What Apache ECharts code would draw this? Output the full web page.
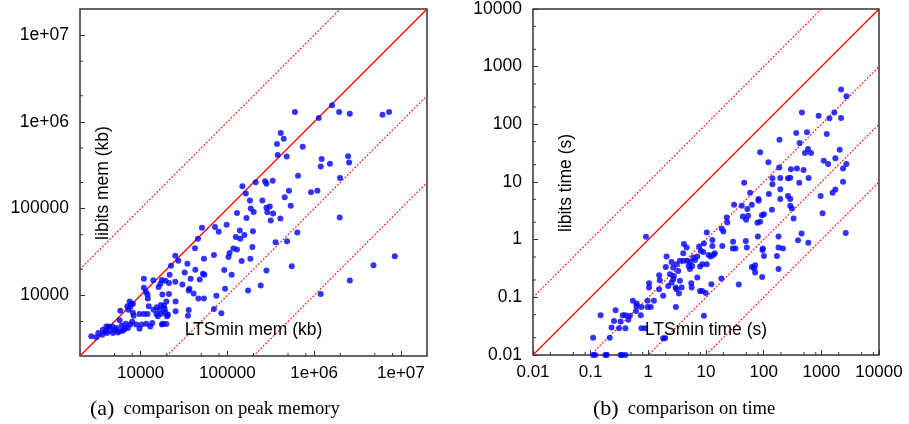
<!DOCTYPE html>
<html><head><meta charset="utf-8">
<script src="https://cdn.jsdelivr.net/npm/echarts@6/dist/echarts.min.js"></script>
<style>html,body{margin:0;padding:0;background:#fff}#c{width:909px;height:424px}</style>
</head><body><div id="c"></div>
<script>
// ---- (a) peak memory (kb) ----
const memLTSmin = [6.0e5,1.13e6,1.61e6,1.94e6,2.58e6,6.14e6,7.31e6,4.12e5,4.46e5,3.73e5,7.38e5,3.8e5,4.83e5,1.22e6,2.46e6,1.19e6,1.52e6,2.53e6,6.52e5,1.99e6,
1.49e5,2.12e5,2.72e5,2.82e5,3.33e5,1.63e5,5.13e5,9.2e5,1.09e6,4.58e5,1.82e5,2.53e5,1.86e5,2.01e5,1.29e5,1.66e5,2.82e5,3.08e5,2.89e5,3.36e5,
3.16e5,4.08e5,5.37e5,1.97e6,5.09e4,7.2e4,7.94e4,9.8e4,1.39e5,1.97e5,1.57e5,1.25e5,1.41e5,6.4e5,4.58e4,4.23e4,3.6e5,4.87e5,1.17e5,1.29e5,
1.94e5,1.06e5,1.03e5,7.0e4,2.51e4,2.72e4,5.37e4,1.84e5,1.46e5,2.24e4,3.46e4,3.22e4,4.27e4,5.23e4,5.43e4,9.2e4,1.12e5,2.82e5,5.52e5,4.83e6,
8.5e6,1.09e4,1.4e4,1.76e4,1.93e4,2.16e4,2.51e4,3.77e4,4.8e4,1.61e4,1.69e4,1.09e4,1.15e4,1.2e4,1.21e4,2.12e4,3.03e4,3.65e4,3.58e4,4.08e4,
4.63e4,5.37e4,7.46e4,9.4e4,1.73e5,2.42e5,1.78e4,1.98e4,2.12e4,2.53e4,1.71e4,1.86e4,1.54e4,1.41e4,1.52e4,1.89e4,1.93e4,2.01e4,1.81e4,1.76e4,
1.98e4,2.53e4,3.58e4,3.51e4,7.0e4,8.53e4,1.19e6,2.58e6,9.7e3,1.09e4,1.2e4,1.24e4,7.47e3,7.8e3,7.03e3,7.22e3,8.15e3,5.83e3,5.73e3,8.0e3,
8.9e3,9.7e3,6.71e3,6.04e3,7.14e3,1.16e4,1.29e4,1.36e4,5.25e3,4.72e3,4.39e3,4.02e3,3.67e3,3.25e3,3.08e3,2.7e3,3.61e3,4.09e3,4.8e3,5.47e3,
6.25e3,5.73e3,5.0e3,3.95e3,4.28e3,6.54e3,7.6e3,1.03e4,8.3e3,1.58e4,1.73e4,2.07e4,7.6e3,8.15e3,1.66e4];
const memLibits = [1.3e6,1.11e6,1.55e6,1.3e6,1.24e6,1.21e6,1.3e6,7.46e5,6.37e5,5.57e5,5.15e5,4.16e5,3.98e5,3.74e5,4.01e5,3.05e5,3.3e5,3.4e5,2.4e5,2.26e5,
1.81e5,2.01e5,2.07e5,1.94e5,2.09e5,1.49e5,1.61e5,1.54e5,1.61e5,1.35e5,1.24e5,1.24e5,1.0e5,9.16e4,8.9e4,7.8e4,1.02e5,1.06e5,9.1e4,8.8e4,
7.3e4,7.7e4,1.08e5,7.9e4,6.0e4,6.15e4,5.4e4,6.5e4,5.6e4,5.5e4,4.98e4,4.7e4,4.5e4,5.3e4,4.5e4,3.5e4,4.1e4,4.2e4,3.46e4,3.37e4,
3.6e4,3.08e4,2.77e4,2.92e4,2.87e4,2.51e4,2.65e4,2.65e4,2.49e4,2.2e4,2.32e4,1.83e4,1.98e4,1.77e4,1.73e4,1.96e4,1.73e4,1.94e4,2.16e4,2.22e4,
2.82e4,1.55e4,1.49e4,1.5e4,1.47e4,1.73e4,1.44e4,1.55e4,1.52e4,1.25e4,1.36e4,1.22e4,1.1e4,1.02e4,9.2e3,1.39e4,1.33e4,1.19e4,1.14e4,1.05e4,
9.2e3,9.2e3,9.9e3,1.19e4,1.14e4,1.3e4,1.02e4,8.5e3,1.04e4,8.5e3,7.75e3,7.6e3,7.3e3,6.84e3,6.1e3,7.0e3,6.37e3,5.73e3,4.72e3,4.6e3,
4.68e3,6.54e3,6.79e3,5.83e3,6.97e3,6.2e3,1.04e4,1.48e4,6.1e3,6.1e3,6.1e3,7.47e3,8.5e3,7.96e3,7.47e3,6.84e3,6.3e3,6.66e3,5.15e3,4.97e3,
4.6e3,4.13e3,4.72e3,4.47e3,4.21e3,4.72e3,4.39e3,4.8e3,4.21e3,4.39e3,3.92e3,4.39e3,4.02e3,3.68e3,3.28e3,3.37e3,3.52e3,3.68e3,3.68e3,3.74e3,
3.92e3,3.85e3,4.02e3,3.85e3,4.39e3,4.1e3,4.6e3,4.6e3,5.83e3,5.73e3,6.15e3,5.99e3,7.35e3,8.0e3,6.84e3];
const memRange = [2000, 20000000];
const memRatios = [10, 1, 0.1, 0.01];
const memMinorX = [5000,8000,20000,50000,80000,200000,500000,800000,2000000,5000000,8000000];
const memMinorY = [5000,20000,50000,200000,500000,2000000,5000000];

// ---- (b) time (s) ----
const timeLTSmin = [2200,2720,461,897,1380,1680,2200,367,564,1240,188,420,86.9,521,587,662,2080,121,1100,1310,
1750,2720,186,2380,297,378,492,142,194,264,289,601,45.8,142,414,2380,194,58.2,123,1570,
1750,264,973,81.3,194,289,1050,2650,454,394,594,181,181,216,181,170,96.8,95.3,101,94.2,
79.3,49,51,71.1,68.4,62.4,71.1,139,289,309,330,93,101,86.9,78,30.7,41.8,52.2,43.5,53.7,
49.6,62.4,81.3,22.9,23.4,18.8,20,19.2,29.5,32.3,29.1,18.5,37,12.4,10.3,12.9,12.9,14.2,12.1,11.1,
13.4,8.97,9.2,7.6,8.1,7.06,6.0,6.44,5.27,5.78,5.27,7.06,7.87,8.63,9.9,9.2,7.87,8.63,10.3,4.61,
4.03,4.73,5.0,4.1,4.14,3.53,3.09,2.7,3.3,2.37,2.7,2.53,3.53,2.97,3.78,5.64,5.55,2.21,3.09,3.39,
3.0,1.81,2.53,2.77,2.07,2.01,1.54,1.58,1.54,1.03,1.03,1.25,0.97,1.1,0.97,0.76,0.74,0.76,0.88,0.91,
0.63,0.54,0.61,0.48,0.45,0.40,0.36,0.33,0.27,0.254,0.23,0.214,0.40,0.31,0.149,0.11,1.81,1.95,0.62,
0.11,0.12,0.18,0.19,0.33,0.35,0.40];
const timeLibits = [400,306,161,141,127,161,129,70.6,72.6,67.9,54,47.3,32.7,31.8,37.2,31.8,36.2,21.9,23.3,20.5,
25.7,20.5,17.9,17.2,16.7,17.2,16.1,11.6,11.7,11.6,11.8,11.7,9.7,9.1,9.7,10.1,7.5,6.5,6.2,6.5,
7.4,5.7,5.7,5.05,5.05,5.05,2.88,1.3,1.28,0.98,0.88,1.14,0.73,0.70,0.31,0.52,0.70,0.66,0.52,0.226,
1.14,0.95,0.73,0.36,0.32,0.337,0.27,3.29,3.86,3.48,2.33,2.66,2.77,2.04,1.96,4.02,3.86,3.39,2.53,2.59,
2.21,4.02,4.72,2.43,1.99,1.56,1.39,0.78,0.92,0.70,0.70,0.212,0.167,0.169,1.33,0.99,0.78,0.58,0.51,0.54,
0.54,0.61,0.86,0.76,0.64,0.51,0.49,0.446,0.41,0.35,0.31,0.22,0.129,0.129,0.119,0.048,0.343,0.376,0.376,0.73,
0.58,0.43,0.35,0.43,0.84,0.43,0.376,0.33,0.287,0.252,0.206,0.181,0.193,0.148,0.148,0.148,0.176,0.158,0.138,0.116,
0.068,0.106,0.41,0.235,0.51,0.337,0.242,0.198,0.138,0.176,0.148,0.087,0.087,0.068,0.068,0.068,0.049,0.029,0.029,1.12,
0.078,0.087,0.058,0.048,0.041,0.049,0.049,0.038,0.060,0.039,0.030,0.020,0.029,0.029,0.049,0.020,0.0195,0.0195,0.071,
0.01,0.01,0.01,0.01,0.01,0.01,0.01];
const timeRange = [0.01, 10000];
const timeRatios = [10, 1, 0.1, 0.01, 0.001];
const timeMinorX = [0.02,0.05,0.08,0.2,0.5,0.8,2,5,8,20,50,80,200,500,800,2000,5000,8000];
const timeMinorY = [0.02,0.05,0.2,0.5,2,5,20,50,200,500,2000,5000];

const titles = {
  memX: 'LTSmin mem (kb)', memY: 'libits mem (kb)',
  timeX: 'LTSmin time (s)', timeY: 'libits time (s)',
  capA: ['(a)', 'comparison on peak memory'],
  capB: ['(b)', 'comparison on time']
};

// ---- layout ----
const G = [
  {left: 80, top: 9, width: 347, height: 347},
  {left: 533, top: 9, width: 346, height: 346}
];
const SANS = 'Liberation Sans, Arial, sans-serif';
const SERIF = 'Liberation Serif, Times New Roman, serif';
const FRAME = '#333';
const RED = '#ff0000';

function isDecade(v) { const l = Math.log10(v); return Math.abs(l - Math.round(l)) < 1e-6; }
function memFmt(v) {
  if (!isDecade(v)) return '';
  const e = Math.round(Math.log10(v));
  return e >= 6 ? '1e+0' + e : String(Math.pow(10, e));
}
function timeFmt(v) {
  if (!isDecade(v)) return '';
  const e = Math.round(Math.log10(v));
  return e < 0 ? Math.pow(10, e).toFixed(-e) : String(Math.pow(10, e));
}

function axis(idx, range, fmt, isX, hideEnds) {
  return {
    type: 'log', logBase: 10, gridIndex: idx, min: range[0], max: range[1],
    axisLine: {show: false},
    axisTick: {show: true, inside: true, length: 5, lineStyle: {color: FRAME, width: 1}},
    splitLine: {show: false}, minorTick: {show: false},
    axisPointer: {show: false},
    axisLabel: {
      formatter: fmt, color: '#000', fontFamily: SANS,
      fontSize: isX ? 17 : 17.5, margin: isX ? 9 : 11,
      padding: isX ? 0 : [6, 0, 0, 0],
      showMinLabel: !hideEnds, showMaxLabel: !hideEnds, hideOverlap: false
    }
  };
}

// diagonals y = r * x, drawn through the axes of the grid and clipped to it
function diagSeries(idx, range, ratios) {
  const data = ratios.map(r => [range[0], range[0] * r, range[1], range[1] * r, r === 1 ? 0 : 1]);
  return {
    type: 'custom', xAxisIndex: idx, yAxisIndex: idx, clip: true, silent: true, z: 2,
    animation: false, data: data, encode: {x: [0, 2], y: [1, 3]},
    renderItem: function (params, api) {
      const a = api.coord([api.value(0), api.value(1)]);
      const b = api.coord([api.value(2), api.value(3)]);
      const dotted = api.value(4) === 1;
      return {
        type: 'line',
        shape: {x1: a[0], y1: a[1], x2: b[0], y2: b[1]},
        style: dotted ? {stroke: RED, lineWidth: 1.2, lineDash: [1.6, 1.9]} : {stroke: RED, lineWidth: 1.3}
      };
    }
  };
}

function minorTicks(idx, range, xs, ys) {
  const data = xs.map(v => [v, range[0], 0]).concat(ys.map(v => [range[0], v, 1]));
  return {
    type: 'custom', xAxisIndex: idx, yAxisIndex: idx, clip: false, silent: true, z: 4,
    animation: false, data: data, encode: {x: 0, y: 1},
    renderItem: function (params, api) {
      const p = api.coord([api.value(0), api.value(1)]);
      const vert = api.value(2) === 0;
      return {
        type: 'line',
        shape: vert ? {x1: p[0], y1: p[1], x2: p[0], y2: p[1] - 3} : {x1: p[0], y1: p[1], x2: p[0] + 3, y2: p[1]},
        style: {stroke: FRAME, lineWidth: 1}
      };
    }
  };
}

function scatter(idx, xs, ys) {
  return {
    type: 'scatter', xAxisIndex: idx, yAxisIndex: idx, clip: false, z: 5, animation: false,
    symbol: 'circle', symbolSize: 6, itemStyle: {color: '#0000ff', borderWidth: 0},
    emphasis: {disabled: true},
    data: xs.map((x, i) => [x, ys[i]])
  };
}

function textEl(x, y, txt, rot, size) {
  return {
    type: 'text', x: x, y: y, rotation: rot || 0, silent: true, z: 10,
    style: {text: txt, fill: '#000', font: (size || 17.5) + 'px ' + SANS, textAlign: 'center', textVerticalAlign: 'middle'}
  };
}
function caption(x, y, parts) {
  return {
    type: 'text', x: x, y: y, silent: true, z: 10,
    style: {
      text: '{a|' + parts[0] + '}{t|' + parts[1] + '}',
      textAlign: 'left', textVerticalAlign: 'middle',
      rich: {
        a: {fontFamily: SERIF, fontSize: 22, fill: '#000', padding: [0, 9, 0, 0]},
        t: {fontFamily: SERIF, fontSize: 18.6, fill: '#000'}
      }
    }
  };
}

const chart = echarts.init(document.getElementById('c'), null, {renderer: 'canvas'});
chart.setOption({
  animation: false,
  backgroundColor: '#fff',
  grid: G.map(g => Object.assign({show: true, borderColor: FRAME, borderWidth: 1.5, backgroundColor: 'transparent', containLabel: false}, g)),
  xAxis: [axis(0, memRange, memFmt, true, true), axis(1, timeRange, timeFmt, true, false)],
  yAxis: [axis(0, memRange, memFmt, false, true), axis(1, timeRange, timeFmt, false, false)],
  series: [
    diagSeries(0, memRange, memRatios),
    diagSeries(1, timeRange, timeRatios),
    minorTicks(0, memRange, memMinorX, memMinorY),
    minorTicks(1, timeRange, timeMinorX, timeMinorY),
    scatter(0, memLTSmin, memLibits),
    scatter(1, timeLTSmin, timeLibits)
  ],
  graphic: [
    textEl(G[0].left + G[0].width / 2, 330, titles.memX),
    textEl(G[0].left + 23, G[0].top + 174, titles.memY, Math.PI / 2),
    textEl(G[1].left + G[1].width / 2, 330, titles.timeX),
    textEl(G[1].left + 33.5, G[1].top + 174, titles.timeY, Math.PI / 2),
    caption(90, 409, titles.capA),
    caption(593, 409, titles.capB)
  ]
});
</script></body></html>
